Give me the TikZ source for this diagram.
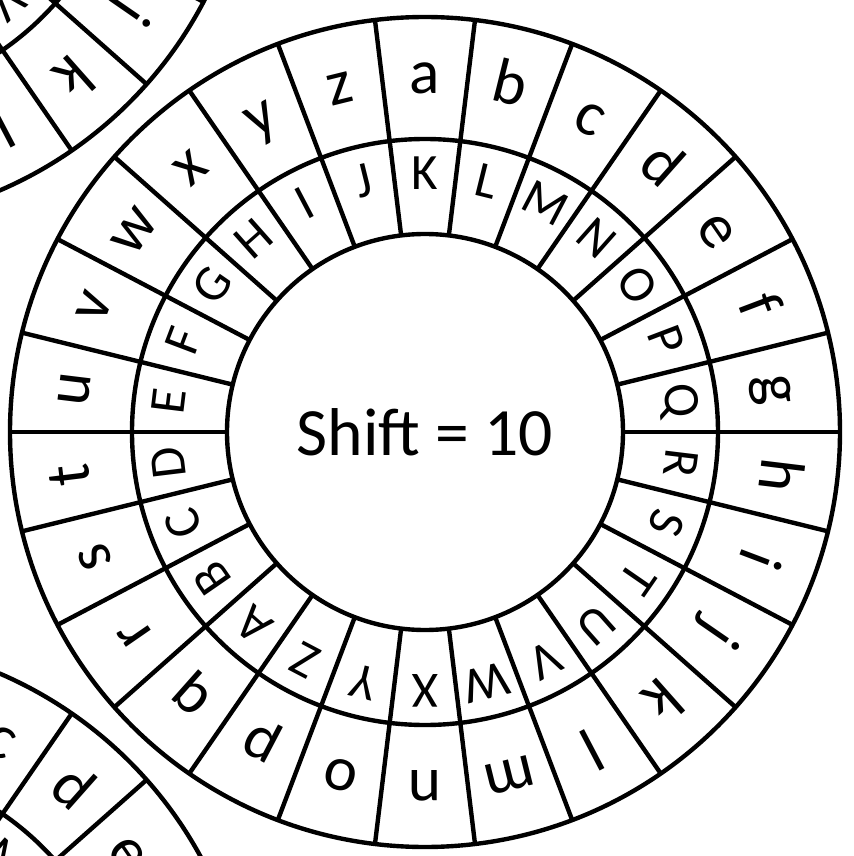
\documentclass[tikz,border=0pt]{standalone}
\usepackage{fontspec}
\setmainfont{Carlito}

\begin{document}
\begin{tikzpicture}[x=0.02cm, y=0.02cm, line width=2.5pt, every node/.style={inner sep=0pt}, outerletter/.style={font=\fontsize{36}{36}\selectfont, anchor=base}, innerletter/.style={font=\fontsize{29}{29}\selectfont, anchor=base}, centretext/.style={font=\fontsize{38.5}{40}\selectfont}]
\path[use as bounding box] (-425,-424) rectangle (428,432);
\clip (-425,-424) rectangle (428,432);
% wheels: centre x / centre y / shift
\foreach \cx/\cy/\s [count=\w] in {0/0/10, -589/623/11, -589/-623/9} {
  \begin{scope}[shift={(\cx,\cy)}]
    \draw (0,0) circle (415) (0,0) circle (293) (0,0) circle (198);
    \foreach \k in {0,...,25} \draw ({\k*360/26}:198) -- ({\k*360/26}:415);
    \foreach \l [count=\i from 0] in {a,...,z} \node[outerletter, rotate={-\i*360/26}] (out-\w-\i) at ({90-\i*360/26}:338) {\l};
    \foreach \l [count=\i from 0] in {A,...,Z} \node[innerletter, rotate={-(\i-\s)*360/26}] (in-\w-\i) at ({90-(\i-\s)*360/26}:242) {\l};
  \end{scope}
}
\node[centretext] (shift) at (0,0) {Shift = 10};
\end{tikzpicture}
\end{document}
